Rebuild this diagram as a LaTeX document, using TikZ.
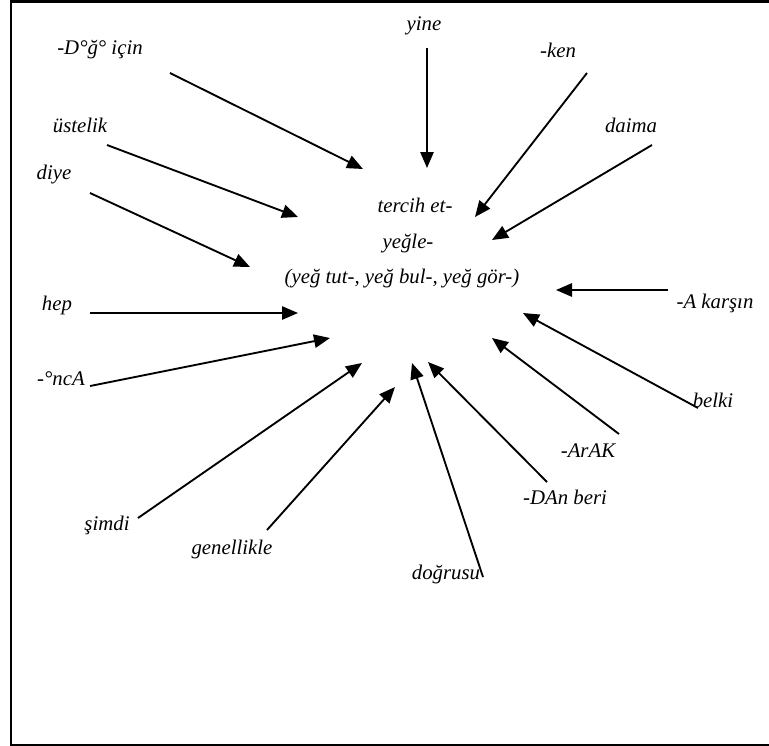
\documentclass[tikz,border=0pt]{standalone}
\usepackage{fontspec}
\setmainfont{Liberation Serif}
\usetikzlibrary{arrows.meta}
\begin{document}
\begin{tikzpicture}[x=0.75pt,y=-0.75pt,
  lbl/.style={inner sep=0pt,font=\fontsize{15.6}{18}\selectfont\itshape},
  arr/.style={line width=1.4pt,-{Triangle[length=12pt,width=10pt]}}]
\useasboundingbox (0,0) rectangle (769,746);
\draw[line width=1.8pt] (769,1.5) -- (11,1.5) -- (11,745) -- (769,745);
% centre
\node[lbl] (t1) at (415,205) {tercih et-};
\node[lbl] (t2) at (408,244) {yeğle-};
\node[lbl] (t3) at (402,279) {(yeğ tut-, yeğ bul-, yeğ gör-)};
% labels
\node[lbl] (dig) at (100,50) {-D°ğ° için};
\node[lbl] (ust) at (80,125) {üstelik};
\node[lbl] (diy) at (54,175) {diye};
\node[lbl] (yin) at (424,26) {yine};
\node[lbl] (ken) at (558,50) {-ken};
\node[lbl] (dai) at (631,125) {daima};
\node[lbl] (hep) at (57,305) {hep};
\node[lbl] (nca) at (61,379) {-°ncA};
\node[lbl] (sim) at (107,525) {şimdi};
\node[lbl] (gen) at (232,549) {genellikle};
\node[lbl] (dog) at (446,574) {doğrusu};
\node[lbl] (dan) at (565,497) {-DAn beri};
\node[lbl] (ara) at (588,451) {-ArAK};
\node[lbl] (bel) at (713,400) {belki};
\node[lbl] (kar) at (715,303) {-A karşın};
% connector ends
\coordinate (dig0) at (170,73);  \coordinate (dig1) at (363,169);
\coordinate (ust0) at (107,145); \coordinate (ust1) at (298,217);
\coordinate (diy0) at (90,193);  \coordinate (diy1) at (250,267);
\coordinate (yin0) at (427,48);  \coordinate (yin1) at (427,168);
\coordinate (ken0) at (587,73);  \coordinate (ken1) at (475,217);
\coordinate (dai0) at (652,145); \coordinate (dai1) at (492,240);
\coordinate (kar0) at (668,290); \coordinate (kar1) at (556,290);
\coordinate (hep0) at (90,313);  \coordinate (hep1) at (298,313);
\coordinate (nca0) at (90,386);  \coordinate (nca1) at (330,338);
\coordinate (sim0) at (138,518); \coordinate (sim1) at (362,363);
\coordinate (gen0) at (267,530); \coordinate (gen1) at (395,387);
\coordinate (dog0) at (483,577); \coordinate (dog1) at (412,363);
\coordinate (dan0) at (547,482); \coordinate (dan1) at (428,362);
\coordinate (ara0) at (619,434); \coordinate (ara1) at (492,338);
\coordinate (bel0) at (698,408); \coordinate (bel1) at (523,313);
% arrows
\foreach \n in {dig,ust,diy,yin,ken,dai,kar,hep,nca,sim,gen,dog,dan,ara,bel}
  \draw[arr] (\n0) -- (\n1);
\end{tikzpicture}
\end{document}
